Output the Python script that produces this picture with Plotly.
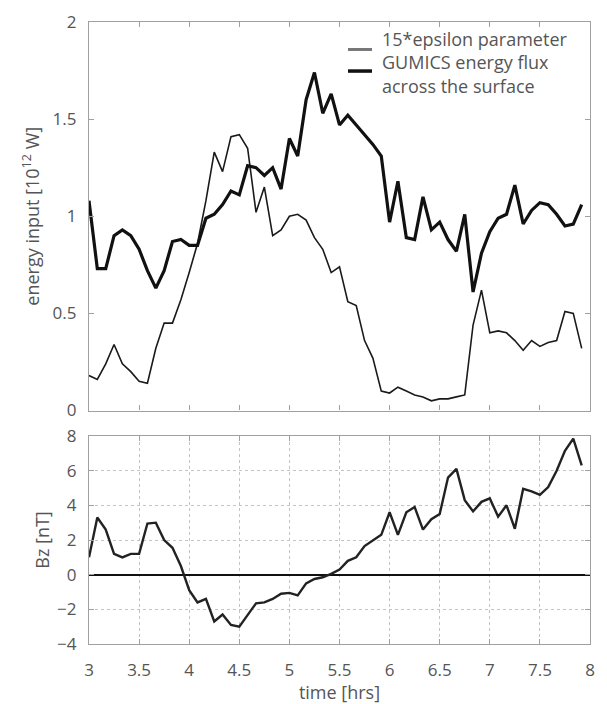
import plotly.graph_objects as go

# time axis [hrs] (5-minute samples)
time_hrs = [3.0, 3.083, 3.167, 3.25, 3.333, 3.417, 3.5, 3.583, 3.667, 3.75, 3.833, 3.917,
            4.0, 4.083, 4.167, 4.25, 4.333, 4.417, 4.5, 4.583, 4.667, 4.75, 4.833, 4.917,
            5.0, 5.083, 5.167, 5.25, 5.333, 5.417, 5.5, 5.583, 5.667, 5.75, 5.833, 5.917,
            6.0, 6.083, 6.167, 6.25, 6.333, 6.417, 6.5, 6.583, 6.667, 6.75, 6.833, 6.917,
            7.0, 7.083, 7.167, 7.25, 7.333, 7.417, 7.5, 7.583, 7.667, 7.75, 7.833, 7.917]

# GUMICS energy flux across the surface [10^12 W]
gumics_flux = [1.08, 0.73, 0.73, 0.90, 0.93, 0.90, 0.83, 0.72, 0.63, 0.72,
               0.87, 0.88, 0.85, 0.85, 0.99, 1.01, 1.06, 1.13, 1.11, 1.26,
               1.25, 1.21, 1.25, 1.14, 1.40, 1.31, 1.60, 1.74, 1.53, 1.63,
               1.47, 1.52, 1.47, 1.42, 1.37, 1.31, 0.97, 1.18, 0.89, 0.88,
               1.10, 0.93, 0.97, 0.88, 0.82, 1.01, 0.61, 0.81, 0.92, 0.99,
               1.01, 1.16, 0.96, 1.03, 1.07, 1.06, 1.01, 0.95, 0.96, 1.06]

# 15*epsilon parameter [10^12 W]
epsilon15 = [0.18, 0.16, 0.24, 0.34, 0.24, 0.20, 0.15, 0.14, 0.32, 0.45,
             0.45, 0.57, 0.71, 0.86, 1.08, 1.33, 1.23, 1.41, 1.42, 1.35,
             1.02, 1.15, 0.90, 0.93, 1.00, 1.01, 0.98, 0.89, 0.83, 0.71,
             0.74, 0.56, 0.54, 0.36, 0.27, 0.10, 0.09, 0.12, 0.10, 0.08,
             0.07, 0.05, 0.06, 0.06, 0.07, 0.08, 0.44, 0.62, 0.40, 0.41,
             0.40, 0.36, 0.31, 0.36, 0.33, 0.35, 0.36, 0.51, 0.50, 0.32]

# IMF Bz [nT]
bz = [1.0, 3.3, 2.6, 1.2, 1.0, 1.2, 1.2, 2.95, 3.0, 2.0,
      1.55, 0.5, -0.9, -1.6, -1.4, -2.7, -2.3, -2.9, -3.0, -2.3,
      -1.65, -1.6, -1.4, -1.1, -1.05, -1.2, -0.5, -0.25, -0.15, 0.05,
      0.3, 0.8, 1.0, 1.65, 2.0, 2.3, 3.6, 2.3, 3.6, 3.9,
      2.6, 3.2, 3.5, 5.6, 6.1, 4.3, 3.65, 4.2, 4.4, 3.35,
      4.0, 2.65, 4.95, 4.8, 4.6, 5.05, 6.0, 7.15, 7.85, 6.3]

x_ticks = [3, 3.5, 4, 4.5, 5, 5.5, 6, 6.5, 7, 7.5, 8]
x_ticklabels = ["3", "3.5", "4", "4.5", "5", "5.5", "6", "6.5", "7", "7.5", "8"]
top_yticks = [0, 0.5, 1, 1.5, 2]
top_yticklabels = ["0", "0.5", "1", "1.5", "2"]
bot_yticks = [-4, -2, 0, 2, 4, 6, 8]

legend_labels = ["15*epsilon parameter", "GUMICS energy flux", "across the surface"]

FONT = "Open Sans"
TXT = "#555555"
FRAME = "#a0a0a0"

fig = go.Figure()
fig.add_trace(go.Scatter(x=time_hrs, y=epsilon15, mode="lines",
                         line=dict(color="#1a1a1a", width=1.6),
                         xaxis="x", yaxis="y", showlegend=False))
fig.add_trace(go.Scatter(x=time_hrs, y=gumics_flux, mode="lines",
                         line=dict(color="#111111", width=3.2),
                         xaxis="x", yaxis="y", showlegend=False))
fig.add_trace(go.Scatter(x=time_hrs, y=bz, mode="lines",
                         line=dict(color="#222222", width=2.4),
                         xaxis="x2", yaxis="y2", showlegend=False))

axis_common = dict(showline=True, linecolor=FRAME, linewidth=1.2, mirror="ticks",
                   ticks="inside", ticklen=5, tickcolor=FRAME,
                   tickfont=dict(family=FONT, size=17, color=TXT))

fig.update_layout(
    width=607, height=704,
    margin=dict(l=89, r=17, t=10, b=60),
    paper_bgcolor="white", plot_bgcolor="white",
    font=dict(family=FONT, color=TXT),
    xaxis=dict(domain=[0, 1], range=[3, 8], anchor="y",
               tickvals=x_ticks, showticklabels=False, showgrid=False,
               zeroline=False, **axis_common),
    yaxis=dict(domain=[0.3754, 1], range=[0, 2], anchor="x",
               tickvals=top_yticks, ticktext=top_yticklabels, showgrid=False,
               zeroline=False, ticklabelstandoff=8,
               title=dict(text="energy input [10<sup>12</sup> W]",
                          font=dict(family=FONT, size=18, color=TXT), standoff=8),
               **axis_common),
    xaxis2=dict(domain=[0, 1], range=[3, 8], anchor="y2",
                tickvals=x_ticks, ticktext=x_ticklabels,
                showgrid=True, gridcolor="#c4c4c4", griddash="dot", gridwidth=1,
                zeroline=False, ticklabelstandoff=10,
                title=dict(text="time [hrs]", font=dict(family=FONT, size=18, color=TXT),
                           standoff=0),
                **axis_common),
    yaxis2=dict(domain=[0, 0.3344], range=[-4, 8], anchor="x2",
                tickvals=bot_yticks,
                showgrid=True, gridcolor="#c4c4c4", griddash="dot", gridwidth=1,
                zeroline=True, zerolinecolor="#111111", zerolinewidth=2,
                ticklabelstandoff=8,
                title=dict(text="Bz [nT]", font=dict(family=FONT, size=18, color=TXT),
                           standoff=2),
                **axis_common),
)

# legend (drawn manually, top right inside upper panel)
def px_x(px):
    return (px - 89) / 501.0

def px_y(py):
    return (644 - py) / 634.0

fig.add_shape(type="line", xref="paper", yref="paper",
              x0=px_x(348), x1=px_x(372), y0=px_y(38), y1=px_y(38),
              line=dict(color="#777777", width=3))
fig.add_shape(type="line", xref="paper", yref="paper",
              x0=px_x(348), x1=px_x(372), y0=px_y(60), y1=px_y(60),
              line=dict(color="#111111", width=3.5))
fig.add_annotation(xref="paper", yref="paper", x=px_x(380), y=px_y(13),
                   text="<br>".join(legend_labels), showarrow=False,
                   xanchor="left", yanchor="top", align="left",
                   font=dict(family=FONT, size=18, color=TXT))

fig.write_html("out.html")
